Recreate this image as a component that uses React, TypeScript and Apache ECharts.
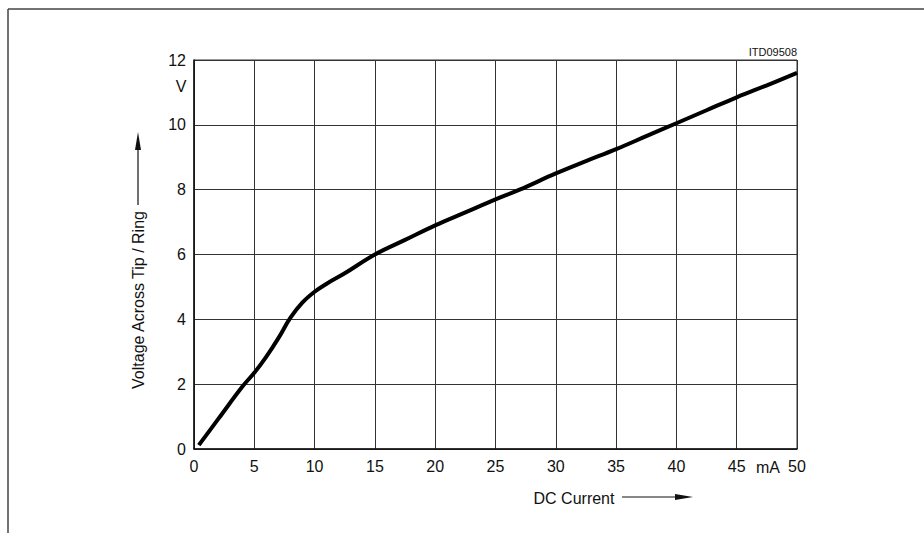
import React, { useEffect, useRef } from "react";
import * as echarts from "echarts";

// DC current (mA) and voltage across tip/ring (V)
const currentMA = [0.4, 2, 4, 5, 6, 7, 8, 9, 10, 11, 12.5, 15, 17.5, 20, 22.5, 25, 27, 30, 32.5, 35, 37.5, 40, 42.5, 45, 47.5, 50];
const voltageV = [0.12, 0.92, 1.92, 2.35, 2.85, 3.42, 4.05, 4.52, 4.85, 5.1, 5.42, 6.0, 6.45, 6.9, 7.3, 7.7, 8.0, 8.5, 8.88, 9.25, 9.65, 10.05, 10.45, 10.85, 11.22, 11.6];

const xLabel = "DC Current";
const yLabel = "Voltage Across Tip / Ring";
const figureId = "ITD09508";
const xUnit = "mA";
const yUnit = "V";

const FONT = "'Liberation Sans Narrow', 'Arial Narrow', 'Liberation Sans', Arial, sans-serif";

export default function App() {
  const ref = useRef<HTMLDivElement>(null);
  useEffect(() => {
    const chart = echarts.init(ref.current!, null, { renderer: "svg" });
    const data = currentMA.map((x, i) => [x, voltageV[i]]);
    chart.setOption({
      animation: false,
      backgroundColor: "#ffffff",
      grid: {
        left: 194,
        right: 127,
        top: 60,
        bottom: 84,
        show: true,
        borderColor: "#333",
        borderWidth: 1,
      },
      xAxis: {
        type: "value",
        min: 0,
        max: 50,
        interval: 5,
        axisLine: { show: true, lineStyle: { color: "#111", width: 1.5 } },
        axisTick: { show: false },
        splitLine: { show: true, lineStyle: { color: "#333", width: 1 } },
        axisLabel: { fontFamily: FONT, fontSize: 16, color: "#111", margin: 9 },
      },
      yAxis: {
        type: "value",
        min: 0,
        max: 12,
        interval: 2,
        axisLine: { show: true, lineStyle: { color: "#111", width: 1.5 } },
        axisTick: { show: false },
        splitLine: { show: true, lineStyle: { color: "#333", width: 1 } },
        axisLabel: { fontFamily: FONT, fontSize: 16, color: "#111", margin: 8 },
      },
      series: [
        {
          type: "line",
          data,
          smooth: 0.4,
          showSymbol: false,
          lineStyle: { color: "#000", width: 4 },
        },
      ],
      graphic: [
        // outer frame lines (top and left)
        { type: "line", shape: { x1: 8, y1: 9, x2: 924, y2: 9 }, style: { stroke: "#444", lineWidth: 1.5 } },
        { type: "line", shape: { x1: 8, y1: 9, x2: 8, y2: 533 }, style: { stroke: "#444", lineWidth: 1.5 } },
        {
          type: "text",
          x: 797,
          y: 52,
          style: { text: figureId, font: `11px ${FONT}`, fill: "#111", textAlign: "right", textVerticalAlign: "middle" },
        },
        {
          type: "text",
          x: 181,
          y: 86,
          style: { text: yUnit, font: `16px ${FONT}`, fill: "#111", textAlign: "center", textVerticalAlign: "middle" },
        },
        {
          type: "text",
          x: 768,
          y: 467,
          style: { text: xUnit, font: `16px ${FONT}`, fill: "#111", textAlign: "center", textVerticalAlign: "middle" },
        },
        {
          type: "text",
          x: 138,
          y: 300,
          rotation: Math.PI / 2,
          style: { text: yLabel, font: `16px ${FONT}`, fill: "#111", textAlign: "center", textVerticalAlign: "middle" },
        },
        { type: "line", shape: { x1: 138, y1: 205, x2: 138, y2: 145 }, style: { stroke: "#111", lineWidth: 1.2 } },
        { type: "polygon", shape: { points: [[138, 132], [135, 150], [141, 150]] }, style: { fill: "#111" } },
        {
          type: "text",
          x: 574,
          y: 498,
          style: { text: xLabel, font: `16px ${FONT}`, fill: "#111", textAlign: "center", textVerticalAlign: "middle" },
        },
        { type: "line", shape: { x1: 622, y1: 497, x2: 680, y2: 497 }, style: { stroke: "#111", lineWidth: 1.2 } },
        { type: "polygon", shape: { points: [[693, 497], [675, 494], [675, 500]] }, style: { fill: "#111" } },
      ],
    });
    return () => chart.dispose();
  }, []);
  return (
    <div
      ref={ref}
      style={{ position: "absolute", left: 0, top: 0, width: 924, height: 533, background: "#fff" }}
    />
  );
}
